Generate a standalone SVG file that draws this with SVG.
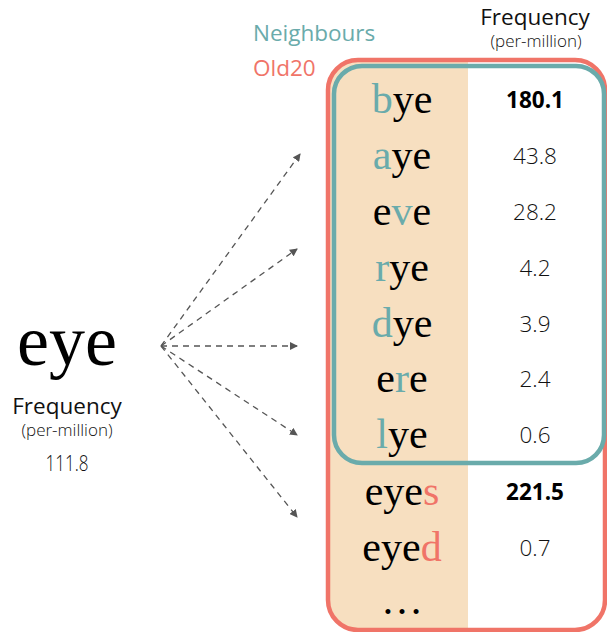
<svg xmlns="http://www.w3.org/2000/svg" width="607" height="632" viewBox="0 0 607 632">
<defs>
<marker id="ah" markerWidth="8" markerHeight="8" refX="7" refY="4" orient="auto" markerUnits="userSpaceOnUse">
<path d="M0,0 L8,4 L0,8 Z" fill="#555"/>
</marker>
<clipPath id="clipRed"><rect x="328" y="60" width="277" height="570" rx="30"/></clipPath>
</defs>
<style>
.w{font-family:"Liberation Serif","Times New Roman",serif;font-size:42px;fill:#000;text-anchor:middle}
.t{fill:#6aabab}
.r{fill:#f07468}
.f{font-family:"Open Sans",Lato,sans-serif;font-size:22.5px;fill:#111;text-anchor:middle;font-weight:300}
.b{font-weight:700;fill:#000}
.h{font-family:"Open Sans",Lato,sans-serif;fill:#111;text-anchor:middle}
.c{fill:none;stroke:#555;stroke-width:1.3;stroke-dasharray:6 5;marker-end:url(#ah)}
</style>
<rect width="607" height="632" fill="#fff"/>
<g id="panel">
<rect x="328" y="60" width="140" height="570" fill="#f7dfc0" clip-path="url(#clipRed)"/>
<rect x="328" y="60" width="277" height="570" rx="30" fill="none" stroke="#f07468" stroke-width="4.5"/>
<rect x="334" y="66" width="270" height="397" rx="28" fill="none" stroke="#6aabab" stroke-width="4.5"/>
</g>
<g id="legend">
<text x="253" y="41" font-family="'Open Sans',Lato,sans-serif" font-size="22.5" fill="#6aabab">Neighbours</text>
<text x="253" y="76" font-family="'Open Sans',Lato,sans-serif" font-size="22.5" fill="#f07468">Old20</text>
</g>
<g id="header">
<text class="h" x="535" y="25" font-size="22.5">Frequency</text>
<text class="h" x="536" y="47" font-size="17" font-weight="300">(per-million)</text>
</g>
<g id="target">
<text x="67" y="365" font-family="'Liberation Serif',serif" font-size="72" text-anchor="middle">eye</text>
<text class="h" x="67" y="414" font-size="22.5">Frequency</text>
<text class="h" x="67" y="436" font-size="17" font-weight="300">(per-million)</text>
<text class="h" x="67" y="471" font-size="22" font-weight="300" fill="#111" textLength="43" lengthAdjust="spacingAndGlyphs">111.8</text>
</g>
<g id="row-bye"><text class="w" x="402" y="113"><tspan class="t">b</tspan>ye</text><text class="f b" x="535" y="108">180.1</text></g>
<g id="row-aye"><text class="w" x="402" y="169"><tspan class="t">a</tspan>ye</text><text class="f" x="535" y="164">43.8</text></g>
<g id="row-eve"><text class="w" x="402" y="225">e<tspan class="t">v</tspan>e</text><text class="f" x="535" y="220">28.2</text></g>
<g id="row-rye"><text class="w" x="402" y="281"><tspan class="t">r</tspan>ye</text><text class="f" x="535" y="276">4.2</text></g>
<g id="row-dye"><text class="w" x="402" y="337"><tspan class="t">d</tspan>ye</text><text class="f" x="535" y="332">3.9</text></g>
<g id="row-ere"><text class="w" x="402" y="392">e<tspan class="t">r</tspan>e</text><text class="f" x="535" y="387">2.4</text></g>
<g id="row-lye"><text class="w" x="402" y="448"><tspan class="t">l</tspan>ye</text><text class="f" x="535" y="443">0.6</text></g>
<g id="row-eyes"><text class="w" x="402" y="505">eye<tspan class="r">s</tspan></text><text class="f b" x="535" y="500">221.5</text></g>
<g id="row-eyed"><text class="w" x="402" y="561">eye<tspan class="r">d</tspan></text><text class="f" x="535" y="556">0.7</text></g>
<g id="row-more"><text class="w" x="402" y="614">…</text></g>
<g id="connectors">
<line class="c" x1="161" y1="346" x2="300" y2="154"/>
<line class="c" x1="161" y1="346" x2="297" y2="249"/>
<line class="c" x1="161" y1="346" x2="297" y2="346"/>
<line class="c" x1="161" y1="346" x2="297" y2="435"/>
<line class="c" x1="161" y1="346" x2="297" y2="517"/>
</g>
</svg>
